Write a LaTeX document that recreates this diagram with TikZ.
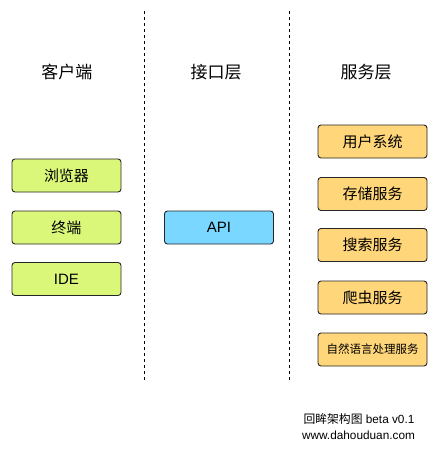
\documentclass[tikz,border=0pt]{standalone}
\usepackage{fontspec}
\setmainfont{Liberation Sans}
\newfontfamily\cjk{Noto Sans CJK SC}
\definecolor{cgreen}{RGB}{218,247,122}
\definecolor{cblue}{RGB}{122,215,255}
\definecolor{corange}{RGB}{255,214,122}
\tikzset{
  box/.style={draw=black!85, line width=0.9pt, rounded corners=3pt, minimum width=109pt, minimum height=33pt, inner sep=0pt, font=\fontsize{15}{17}\selectfont},
  greenbox/.style={box, fill=cgreen},
  bluebox/.style={box, fill=cblue},
  orangebox/.style={box, fill=corange},
  divider/.style={draw=black, line width=0.8pt, dash pattern=on 3pt off 3pt},
  title/.style={font=\fontsize{17}{20}\selectfont\cjk},
  foot/.style={font=\fontsize{11.8}{13}\selectfont, inner sep=0pt}
}
\begin{document}
\begin{tikzpicture}[x=1pt,y=-1pt]
\useasboundingbox[fill=white] (0,0) rectangle (439,456);
% dividers
\coordinate (d1t) at (144,11); \coordinate (d1b) at (144,380);
\coordinate (d2t) at (289,11); \coordinate (d2b) at (289,380);
\draw[divider] (d1t) -- (d1b);
\draw[divider] (d2t) -- (d2b);
% titles
\node[title] (t1) at (67,72) {客户端};
\node[title] (t2) at (216,72) {接口层};
\node[title] (t3) at (366,72) {服务层};
% client
\node[greenbox] (b1) at (66.5,175.5) {\cjk 浏览器};
\node[greenbox] (b2) at (66.5,227.5) {\cjk 终端};
\node[greenbox] (b3) at (66.5,279) {IDE};
% api
\node[bluebox] (api) at (219,227.5) {API};
% services
\node[orangebox] (s1) at (372.5,141.5) {\cjk 用户系统};
\node[orangebox] (s2) at (372.5,194) {\cjk 存储服务};
\node[orangebox] (s3) at (372.5,245) {\cjk 搜索服务};
\node[orangebox] (s4) at (372.5,297.5) {\cjk 爬虫服务};
\node[orangebox, font=\fontsize{11.5}{13}\selectfont\cjk] (s5) at (372.5,349.5) {自然语言处理服务};
% footer
\node[foot] (f1) at (359,419) {{\cjk 回眸架构图} beta v0.1};
\node[foot] (f2) at (358.5,435) {www.dahouduan.com};
\end{tikzpicture}
\end{document}
